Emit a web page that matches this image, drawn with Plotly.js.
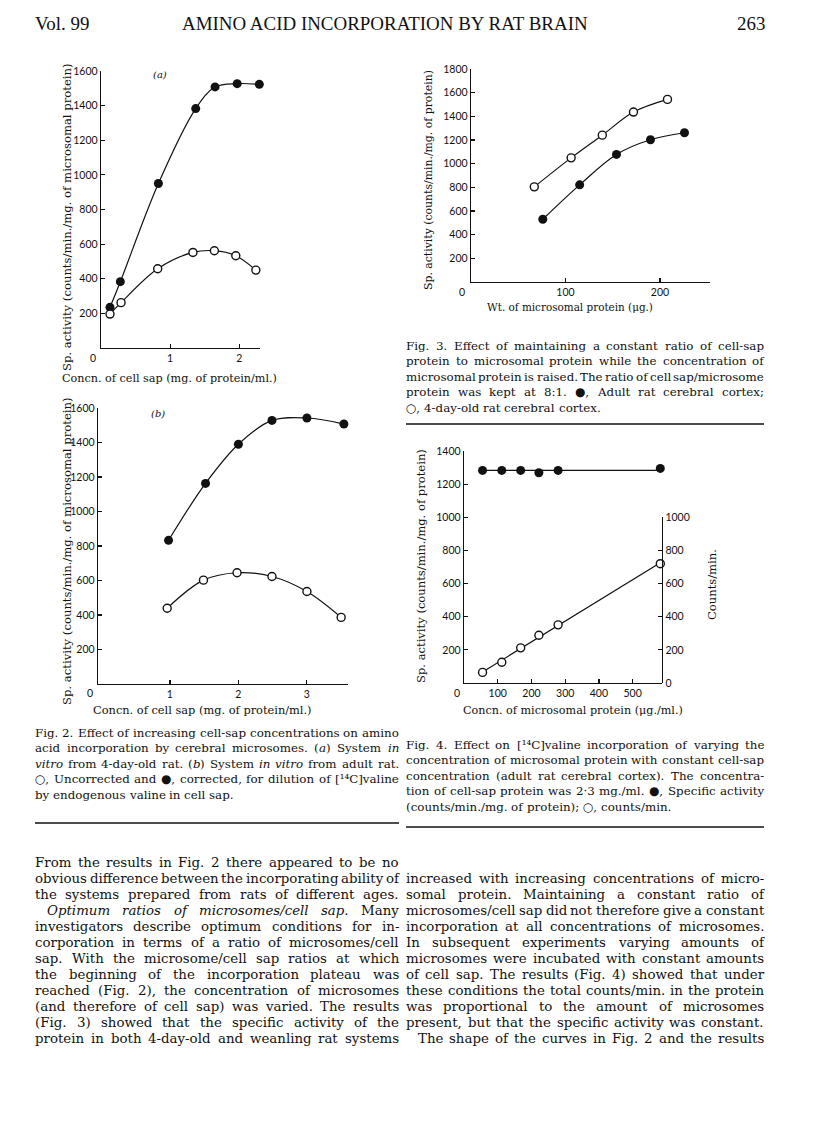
<!DOCTYPE html>
<html><head><meta charset="utf-8">
<script src="https://cdn.plot.ly/plotly-3.0.1.min.js"></script>
<style>html,body{margin:0;padding:0;background:#fff}#chart{width:816px;height:1148px}</style>
</head><body><div id="chart"></div>
<script>
// ---------------- DATA ----------------
// Fig. 2(a): system in vitro from 4-day-old rat
const fig2a_x_corrected   = [0.13, 0.28, 0.83, 1.37, 1.65, 1.97, 2.29];
const fig2a_y_corrected   = [235, 383, 950, 1383, 1508, 1527, 1523];
const fig2a_x_uncorrected = [0.13, 0.29, 0.82, 1.33, 1.64, 1.95, 2.24];
const fig2a_y_uncorrected = [196, 262, 458, 552, 562, 533, 450];
// Fig. 2(b): system in vitro from adult rat
const fig2b_x_corrected   = [0.98, 1.52, 2.00, 2.49, 3.00, 3.54];
const fig2b_y_corrected   = [833, 1163, 1390, 1528, 1542, 1507];
const fig2b_x_uncorrected = [0.96, 1.49, 1.98, 2.49, 3.00, 3.50];
const fig2b_y_uncorrected = [439, 602, 645, 623, 536, 386];
// Fig. 3
const fig3_x_young = [67, 106, 139, 172, 208];
const fig3_y_young = [804, 1049, 1241, 1436, 1543];
const fig3_x_adult = [76, 115, 154, 190, 226];
const fig3_y_adult = [530, 821, 1078, 1202, 1261];
// Fig. 4
const fig4_x      = [55, 112, 168, 222, 279, 582];
const fig4_spact  = [1283, 1283, 1283, 1269, 1283, 1295];
const fig4_counts = [64, 125, 212, 288, 351, 720];

// Tick values
const fig2a_xticks = [1, 2];
const fig2b_xticks = [1, 2, 3];
const fig2_yticks  = [200, 400, 600, 800, 1000, 1200, 1400, 1600];
const fig3_xticks  = [100, 200];
const fig3_yticks  = [200, 400, 600, 800, 1000, 1200, 1400, 1600, 1800];
const fig4_xticks  = [100, 200, 300, 400, 500];
const fig4_yticks  = [200, 400, 600, 800, 1000, 1200, 1400];
const fig4_y2ticks = [0, 200, 400, 600, 800, 1000];

// Texts
const headerLeft = "Vol. 99";
const headerTitle = "AMINO ACID INCORPORATION BY RAT BRAIN";
const headerRight = "263";
const ylabelFig2 = "Sp. activity (counts/min./mg. of microsomal protein)";
const ylabelFig34 = "Sp. activity (counts/min./mg. of protein)";
const xlabelFig2 = "Concn. of cell sap (mg. of protein/ml.)";
const xlabelFig3 = "Wt. of microsomal protein (\u03bcg.)";
const xlabelFig4 = "Concn. of microsomal protein (\u03bcg./ml.)";
const y2labelFig4 = "Counts/min.";
const panelA = "(a)";
const panelB = "(b)";
const captionFig2 = [
  "Fig. 2. Effect of increasing cell-sap concentrations on amino",
  "acid incorporation by cerebral microsomes. (<i>a</i>) System <i>in</i>",
  "<i>vitro</i> from 4-day-old rat. (<i>b</i>) System <i>in vitro</i> from adult rat.",
  "\u25cb, Uncorrected and \u25cf, corrected, for dilution of [\u00b9\u2074C]valine",
  "by endogenous valine in cell sap."
];
const captionFig3 = [
  "Fig. 3. Effect of maintaining a constant ratio of cell-sap",
  "protein to microsomal protein while the concentration of",
  "microsomal protein is raised. The ratio of cell sap/microsome",
  "protein was kept at 8:1. \u25cf, Adult rat cerebral cortex;",
  "\u25cb, 4-day-old rat cerebral cortex."
];
const captionFig4 = [
  "Fig. 4. Effect on [\u00b9\u2074C]valine incorporation of varying the",
  "concentration of microsomal protein with constant cell-sap",
  "concentration (adult rat cerebral cortex). The concentra-",
  "tion of cell-sap protein was 2\u00b73 mg./ml. \u25cf, Specific activity",
  "(counts/min./mg. of protein); \u25cb, counts/min."
];
const bodyLeft = [
  "From the results in Fig. 2 there appeared to be no",
  "obvious difference between the incorporating ability of",
  "the systems prepared from rats of different ages.",
  "<i>Optimum ratios of microsomes/cell sap.</i> Many",
  "investigators describe optimum conditions for in-",
  "corporation in terms of a ratio of microsomes/cell",
  "sap. With the microsome/cell sap ratios at which",
  "the beginning of the incorporation plateau was",
  "reached (Fig. 2), the concentration of microsomes",
  "(and therefore of cell sap) was varied. The results",
  "(Fig. 3) showed that the specific activity of the",
  "protein in both 4-day-old and weanling rat systems"
];
const bodyRight = [
  "increased with increasing concentrations of micro-",
  "somal protein. Maintaining a constant ratio of",
  "microsomes/cell sap did not therefore give a constant",
  "incorporation at all concentrations of microsomes.",
  "In subsequent experiments varying amounts of",
  "microsomes were incubated with constant amounts",
  "of cell sap. The results (Fig. 4) showed that under",
  "these conditions the total counts/min. in the protein",
  "was proportional to the amount of microsomes",
  "present, but that the specific activity was constant.",
  "The shape of the curves in Fig. 2 and the results"
];

// ---------------- LAYOUT HELPERS ----------------
const W = 816, H = 1148;
const SERIF = "DejaVu Serif";
const HEAD = "Liberation Serif";
const TICKF = "Lato";
const INK = "#111111";
const ctx = document.createElement('canvas').getContext('2d');
function mw(str, size, fam, italic) { ctx.font = (italic ? 'italic ' : '') + size + 'px "' + fam + '"'; return ctx.measureText(str).width; }
// split a line into words; each word is a list of {t, it} segments
function splitWords(line) {
  let it = false; const words = [];
  line.split(' ').filter(s => s.length).forEach(r => {
    const segs = [];
    r.split(/(<\/?i>)/).forEach(p => {
      if (p === '<i>') it = true; else if (p === '</i>') it = false;
      else if (p) segs.push({ t: p, it: it });
    });
    words.push(segs);
  });
  return words;
}
function wordWidth(segs, size, fam) { return segs.reduce((a, s) => a + mw(s.t, size, fam, s.it), 0); }
function fitLine(line, width, fam, minGap) {
  const ws = splitWords(line);
  const wordsW = ws.reduce((a, w) => a + wordWidth(w, 100, fam), 0) / 100;
  return width / (wordsW + (ws.length - 1) * minGap);
}
const anns = [];
function txt(text, x, y, size, fam, opt, italic) {
  anns.push(Object.assign({ text: text, x: x / W, y: 1 - y / H, xref: 'paper', yref: 'paper', showarrow: false,
    xanchor: 'center', yanchor: 'middle', borderpad: 0, borderwidth: 0,
    font: { family: fam, size: size, color: INK, style: italic ? 'italic' : 'normal' } }, opt || {}));
}
function placeLine(line, x0, x1, y, size, fam, justify) {
  const words = splitWords(line);
  const ws = words.map(w => wordWidth(w, size, fam));
  const total = ws.reduce((a, b) => a + b, 0);
  const gap = (justify && words.length > 1) ? (x1 - x0 - total) / (words.length - 1) : mw(' ', size, fam, false);
  let x = x0;
  words.forEach((segs, i) => {
    let sx = x;
    segs.forEach(s => { txt(s.t, sx, y, size, fam, { xanchor: 'left' }, s.it); sx += mw(s.t, size, fam, s.it); });
    x += ws[i] + gap;
  });
}
function fitSize(text, fam, target, italic) { return target * 100 / mw(text, 100, fam, italic); }

// column geometry (pixels)
const LCOL = [35, 399], RCOL = [406, 764];

// ---------- body text ----------
const bodySpec = [];
bodyLeft.forEach((l, i) => bodySpec.push({ line: l, x0: LCOL[0] + (i === 3 ? 12 : 0), x1: LCOL[1], y: 862 + 16 * i }));
bodyRight.forEach((l, i) => bodySpec.push({ line: l, x0: RCOL[0] + (i === 10 ? 12 : 0), x1: RCOL[1], y: 878 + 16 * i }));
const bodySize = Math.min(...bodySpec.map(s => fitLine(s.line, s.x1 - s.x0, SERIF, 0.2)));
bodySpec.forEach(s => placeLine(s.line, s.x0, s.x1, s.y, bodySize, SERIF, true));

// ---------- captions ----------
const capSpec = [];
function addCap(lines, col, y0) {
  lines.forEach((l, i) => capSpec.push({ line: l, x0: col[0], x1: col[1], y: y0 + 15.4 * i, just: i < lines.length - 1 }));
}
addCap(captionFig2, LCOL, 733);
addCap(captionFig3, RCOL, 346);
addCap(captionFig4, RCOL, 745);
const capSize = Math.min(...capSpec.filter(s => s.just).map(s => fitLine(s.line, s.x1 - s.x0, SERIF, 0.2)));
capSpec.forEach(s => placeLine(s.line, s.x0, s.x1, s.y, capSize, SERIF, s.just));

// ---------- header ----------
const headSize = fitSize(headerTitle, HEAD, 408, false);
txt(headerLeft, 35, 23, headSize, HEAD, { xanchor: 'left' });
txt(headerTitle, 182, 23, headSize, HEAD, { xanchor: 'left' });
txt(headerRight, 765, 23, headSize, HEAD, { xanchor: 'right' });

// ---------- axis titles ----------
const yl2Size = fitSize(ylabelFig2, SERIF, 308);
const yl4Size = fitSize(ylabelFig34, SERIF, 234);
txt(ylabelFig2, 67, 217, yl2Size, SERIF, { textangle: -90 });
txt(ylabelFig2, 67, 551, yl2Size, SERIF, { textangle: -90 });
txt(ylabelFig34, 428, 180, fitSize(ylabelFig34, SERIF, 220), SERIF, { textangle: -90 });
txt(ylabelFig34, 421, 566, yl4Size, SERIF, { textangle: -90 });
txt(y2labelFig4, 712, 585, yl4Size, SERIF, { textangle: -90 });
txt(xlabelFig2, 169, 378, fitSize(xlabelFig2, SERIF, 215), SERIF);
txt(xlabelFig2, 202, 710, fitSize(xlabelFig2, SERIF, 219), SERIF);
txt(xlabelFig3, 570, 307, fitSize(xlabelFig3, SERIF, 166), SERIF);
txt(xlabelFig4, 573, 710, fitSize(xlabelFig4, SERIF, 220), SERIF);
txt(panelA, 160, 74, 10, SERIF, {}, true);
txt(panelB, 158, 413, 10, SERIF, {}, true);
// shared origin labels
txt("0", 93, 358, 10.5, TICKF);
txt("0", 90, 693, 10.5, TICKF);
txt("0", 462, 292, 10.5, TICKF);
txt("0", 457, 693, 10.5, TICKF);

// ---------------- AXES ----------------
function dom(a, b, n) { return [a / n, b / n]; }
function ydom(top, bottom) { return [1 - bottom / H, 1 - top / H]; }
function axis(extra) {
  return Object.assign({ showgrid: false, zeroline: false, showline: true, linecolor: INK, linewidth: 1.3,
    ticks: 'inside', ticklen: 4, tickwidth: 1.2, tickcolor: INK, tickmode: 'array', fixedrange: true,
    tickfont: { family: TICKF, size: 10.5, color: INK } }, extra);
}
const F2A = { l: 101, r: 260, t: 71, b: 348 };
const F2B = { l: 98, r: 348, t: 408, b: 684 };
const F3  = { l: 471, r: 710, t: 69, b: 282 };
const F4  = { l: 464, r: 662, t: 451, b: 683 };
const F4R_TOP = F4.b - (F4.b - F4.t) * 1000 / 1400;

const layout = {
  width: W, height: H, margin: { l: 0, r: 0, t: 0, b: 0 }, showlegend: false,
  paper_bgcolor: '#ffffff', plot_bgcolor: 'rgba(0,0,0,0)',
  xaxis:  axis({ domain: dom(F2A.l, F2A.r, W), range: [0, 2.3], anchor: 'y', tickvals: fig2a_xticks }),
  yaxis:  axis({ domain: ydom(F2A.t, F2A.b), range: [0, 1600], anchor: 'x', tickvals: fig2_yticks }),
  xaxis2: axis({ domain: dom(F2B.l, F2B.r, W), range: [-0.05, 3.6], anchor: 'y2', tickvals: fig2b_xticks }),
  yaxis2: axis({ domain: ydom(F2B.t, F2B.b), range: [0, 1600], anchor: 'x2', tickvals: fig2_yticks }),
  xaxis3: axis({ domain: dom(F3.l, F3.r, W), range: [0, 253], anchor: 'y3', tickvals: fig3_xticks }),
  yaxis3: axis({ domain: ydom(F3.t, F3.b), range: [0, 1800], anchor: 'x3', tickvals: fig3_yticks }),
  xaxis4: axis({ domain: dom(F4.l, F4.r, W), range: [0, 587], anchor: 'y4', tickvals: fig4_xticks }),
  yaxis4: axis({ domain: ydom(F4.t, F4.b), range: [0, 1400], anchor: 'x4', tickvals: fig4_yticks }),
  yaxis5: axis({ domain: ydom(F4R_TOP, F4.b), range: [0, 1000], anchor: 'x4', side: 'right', tickvals: fig4_y2ticks }),
  annotations: anns,
  shapes: [
    { type: 'line', xref: 'paper', yref: 'paper', x0: 35 / W, x1: 399 / W, y0: 1 - 823 / H, y1: 1 - 823 / H, line: { color: INK, width: 1.6 } },
    { type: 'line', xref: 'paper', yref: 'paper', x0: 406 / W, x1: 764 / W, y0: 1 - 424 / H, y1: 1 - 424 / H, line: { color: INK, width: 1.6 } },
    { type: 'line', xref: 'paper', yref: 'paper', x0: 406 / W, x1: 764 / W, y0: 1 - 827 / H, y1: 1 - 827 / H, line: { color: INK, width: 1.6 } }
  ]
};

// ---------------- TRACES ----------------
const filledMarker = { size: 9, color: INK, line: { width: 0 } };
const openMarker = { size: 8, color: '#ffffff', line: { color: INK, width: 1.4 } };
const curve = { shape: 'spline', smoothing: 1, color: INK, width: 1.2 };
function tr(x, y, xa, ya, marker, mode, line) {
  return { x: x, y: y, xaxis: xa, yaxis: ya, mode: mode || 'lines+markers', marker: marker, line: line || curve, hoverinfo: 'skip', cliponaxis: false };
}
// fits for Fig. 4 lines
function mean(a) { return a.reduce((s, v) => s + v, 0) / a.length; }
const mx = mean(fig4_x), my = mean(fig4_counts);
let sxy = 0, sxx = 0;
fig4_x.forEach((x, i) => { sxy += (x - mx) * (fig4_counts[i] - my); sxx += (x - mx) * (x - mx); });
const slope = sxy / sxx, icpt = my - slope * mx;
const xEnds = [Math.min(...fig4_x), Math.max(...fig4_x)];
const spMean = mean(fig4_spact);

const data = [
  tr(fig2a_x_corrected, fig2a_y_corrected, 'x', 'y', filledMarker),
  tr(fig2a_x_uncorrected, fig2a_y_uncorrected, 'x', 'y', openMarker),
  tr(fig2b_x_corrected, fig2b_y_corrected, 'x2', 'y2', filledMarker),
  tr(fig2b_x_uncorrected, fig2b_y_uncorrected, 'x2', 'y2', openMarker),
  tr(fig3_x_young, fig3_y_young, 'x3', 'y3', openMarker),
  tr(fig3_x_adult, fig3_y_adult, 'x3', 'y3', filledMarker),
  tr(xEnds, [spMean, spMean], 'x4', 'y4', {}, 'lines', { color: INK, width: 1.2 }),
  tr(xEnds, xEnds.map(x => icpt + slope * x), 'x4', 'y5', {}, 'lines', { color: INK, width: 1.2 }),
  tr(fig4_x, fig4_spact, 'x4', 'y4', filledMarker, 'markers'),
  tr(fig4_x, fig4_counts, 'x4', 'y5', openMarker, 'markers')
];

Plotly.newPlot('chart', data, layout, { staticPlot: true, displayModeBar: false });
</script>
</body></html>
